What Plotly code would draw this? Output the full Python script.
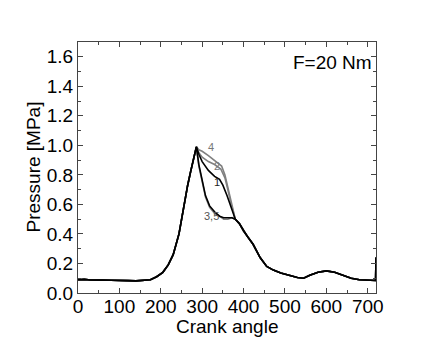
"""Cylinder pressure vs crank angle at F=20 Nm, five overlaid runs."""

import plotly.graph_objects as go

# Shared compression part (before the peak)
rise_deg = [0, 15, 30, 45, 60, 80, 100, 120, 140, 160, 175, 190, 205, 218, 230,
            244, 256, 265, 272, 280, 286]
rise_p = [0.09, 0.092, 0.088, 0.09, 0.087, 0.086, 0.083, 0.084, 0.082, 0.085,
          0.09, 0.11, 0.14, 0.19, 0.26, 0.40, 0.60, 0.73, 0.82, 0.93, 0.99]

# Branches after the peak, one per run
run1_deg = [292, 300, 315, 330, 342, 350, 360, 370, 380]
run1_p = [0.94, 0.89, 0.83, 0.79, 0.77, 0.73, 0.66, 0.58, 0.50]
run2_deg = [292, 300, 315, 330, 345, 355, 362, 370, 380]
run2_p = [0.95, 0.92, 0.89, 0.87, 0.84, 0.78, 0.70, 0.60, 0.50]
run3_deg = [292, 300, 308, 318, 330, 342, 352, 362, 372, 380]
run3_p = [0.87, 0.76, 0.66, 0.59, 0.55, 0.52, 0.51, 0.51, 0.51, 0.50]
run4_deg = [292, 300, 315, 330, 347, 355, 362, 370, 380]
run4_p = [0.97, 0.96, 0.93, 0.90, 0.86, 0.80, 0.71, 0.61, 0.50]
run5_deg = [292, 300, 308, 318, 330, 342, 352, 362, 372, 380]
run5_p = [0.86, 0.75, 0.65, 0.58, 0.54, 0.52, 0.50, 0.50, 0.51, 0.50]

# Shared expansion / exhaust part
fall_deg = [390, 400, 410, 423, 440, 456, 472, 490, 510, 530, 545, 560, 580,
            600, 620, 640, 660, 680, 700, 715, 719, 720]
fall_p = [0.47, 0.42, 0.38, 0.33, 0.24, 0.18, 0.155, 0.135, 0.12, 0.105, 0.10,
          0.12, 0.14, 0.15, 0.14, 0.12, 0.10, 0.09, 0.085, 0.085, 0.085, 0.24]

# gray runs first so the black ones sit on top
runs = [
    ("2", run2_deg, run2_p, "#808080"),
    ("4", run4_deg, run4_p, "#808080"),
    ("5", run5_deg, run5_p, "#808080"),
    ("1", run1_deg, run1_p, "#000000"),
    ("3", run3_deg, run3_p, "#000000"),
]

# Curve labels placed in data coordinates
label_text = ["4", "2", "1", "3,5"]
label_deg = [322, 336, 337, 322]
label_p = [0.99, 0.86, 0.75, 0.52]
label_color = ["#777777", "#777777", "#222222", "#555555"]

fig = go.Figure()
for name, deg, p, color in runs:
    fig.add_trace(
        go.Scatter(
            x=rise_deg + deg + fall_deg,
            y=rise_p + p + fall_p,
            mode="lines",
            name=name,
            line={"color": color, "width": 1.6},
        )
    )

for txt, x, y, c in zip(label_text, label_deg, label_p, label_color):
    fig.add_annotation(
        x=x, y=y, text=txt, showarrow=False,
        font={"size": 11, "color": c},
    )

fig.add_annotation(
    x=1, y=1, xref="paper", yref="paper", xanchor="right", yanchor="top",
    xshift=-2, yshift=-8, text="F=20 Nm", showarrow=False,
    font={"size": 19, "color": "#000000"},
)

# axis titles as annotations so they sit where the reference has them
fig.add_annotation(
    x=0.5, y=0, xref="paper", yref="paper", yanchor="middle",
    yshift=-33, text="Crank angle", showarrow=False,
    font={"size": 19, "color": "#000000"},
)
fig.add_annotation(
    x=0, y=0.5, xref="paper", yref="paper", xanchor="center",
    xshift=-45, text="Pressure [MPa]", textangle=-90, showarrow=False,
    font={"size": 19, "color": "#000000"},
)

axis_style = dict(
    showline=True,
    mirror="ticks",
    linecolor="#444444",
    linewidth=1,
    ticks="inside",
    ticklen=5,
    tickcolor="#444444",
    showgrid=False,
    zeroline=False,
    automargin=False,
    tickfont={"size": 19, "color": "#000000"},
)

fig.update_xaxes(
    range=[0, 720], dtick=100, tick0=0, ticklabelstandoff=-4,
    minor={"dtick": 50, "ticks": "inside", "ticklen": 3, "tickcolor": "#444444"},
    **axis_style,
)
fig.update_yaxes(
    range=[0, 1.7], dtick=0.2, tick0=0, tickformat=".1f",
    minor={"dtick": 0.1, "ticks": "inside", "ticklen": 3, "tickcolor": "#444444"},
    **axis_style,
)

# page body adds an 8px offset, so the figure is drawn 8px smaller
fig.update_layout(
    width=428,
    height=330,
    autosize=False,
    showlegend=False,
    paper_bgcolor="white",
    plot_bgcolor="white",
    font={"family": "Liberation Sans, Arial, sans-serif", "color": "#000000"},
    margin={"l": 70, "r": 60, "t": 34, "b": 45},
)

fig.write_html("out.html")
